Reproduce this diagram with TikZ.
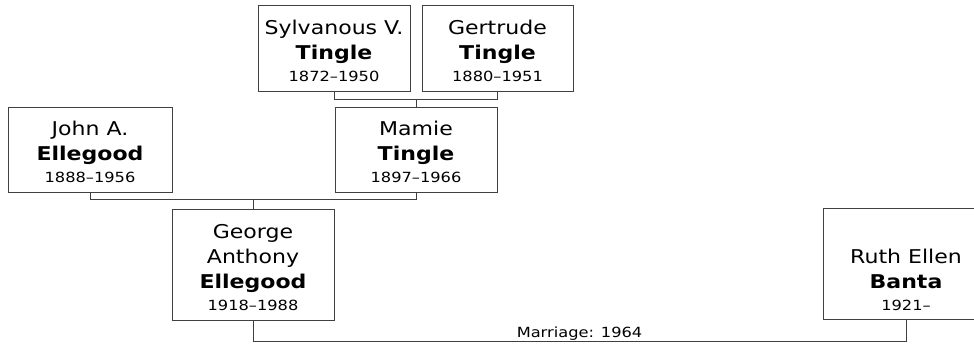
\documentclass[tikz,border=0pt]{standalone}
\usepackage{fontspec}
\setmainfont{DejaVu Sans}[FakeStretch=1.16]
\definecolor{linecol}{RGB}{64,64,64}
\newcommand{\yrs}[1]{{\fontsize{14}{17}\selectfont #1}}
\begin{document}
\begin{tikzpicture}[x=1pt,y=-1pt,
  person/.style={draw=linecol, line width=1pt, inner sep=0pt},
  ptext/.style={anchor=south, inner sep=0pt, align=center,
    font=\fontsize{19}{25}\selectfont, text=black},
  link/.style={draw=linecol, line width=1pt}]
\clip (0,0) rectangle (974,345);
\useasboundingbox (0,0) rectangle (974,345);
\node[person, minimum width=152pt, minimum height=85pt] (sylv) at (334,48.5) {};
\node[ptext] (sylvt) at ([yshift=9.5pt]sylv.south)
  {Sylvanous V.\\ \textbf{Tingle}\\[-3pt] \yrs{1872–1950}};
\node[person, minimum width=151pt, minimum height=85pt] (gert) at (497.5,48.5) {};
\node[ptext] (gertt) at ([yshift=9.5pt]gert.south)
  {Gertrude\\ \textbf{Tingle}\\[-3pt] \yrs{1880–1951}};
\node[person, minimum width=164pt, minimum height=85pt] (john) at (90,149.5) {};
\node[ptext] (johnt) at ([yshift=9.5pt]john.south)
  {John A.\\ \textbf{Ellegood}\\[-3pt] \yrs{1888–1956}};
\node[person, minimum width=162pt, minimum height=85pt] (mamie) at (416,149.5) {};
\node[ptext] (mamiet) at ([yshift=9.5pt]mamie.south)
  {Mamie\\ \textbf{Tingle}\\[-3pt] \yrs{1897–1966}};
\node[person, minimum width=162pt, minimum height=111pt] (george) at (253,264.5) {};
\node[ptext] (georget) at ([yshift=10pt]george.south)
  {George\\ Anthony\\ \textbf{Ellegood}\\[-3pt] \yrs{1918–1988}};
\node[person, minimum width=166pt, minimum height=111pt] (ruth) at (906,263.5) {};
\node[ptext] (rutht) at ([yshift=8.5pt]ruth.south)
  {Ruth Ellen\\ \textbf{Banta}\\[-3pt] \yrs{1921–}};
\coordinate (b1) at (416,99.5);
\coordinate (b2) at (253,199.5);
\coordinate (m) at (579.5,341.5);
\draw[link] (sylv.south) |- (b1) -| (gert.south);
\draw[link] (b1) -- (mamie.north);
\draw[link] (john.south) |- (b2) -| (mamie.south);
\draw[link] (b2) -- (george.north);
\draw[link] (george.south) |- (m) -| (ruth.south);
\node[anchor=base, inner sep=0pt, font=\fontsize{14}{17}\selectfont] (mlabel) at ([yshift=4.5pt]m) {Marriage: 1964};
\end{tikzpicture}
\end{document}
